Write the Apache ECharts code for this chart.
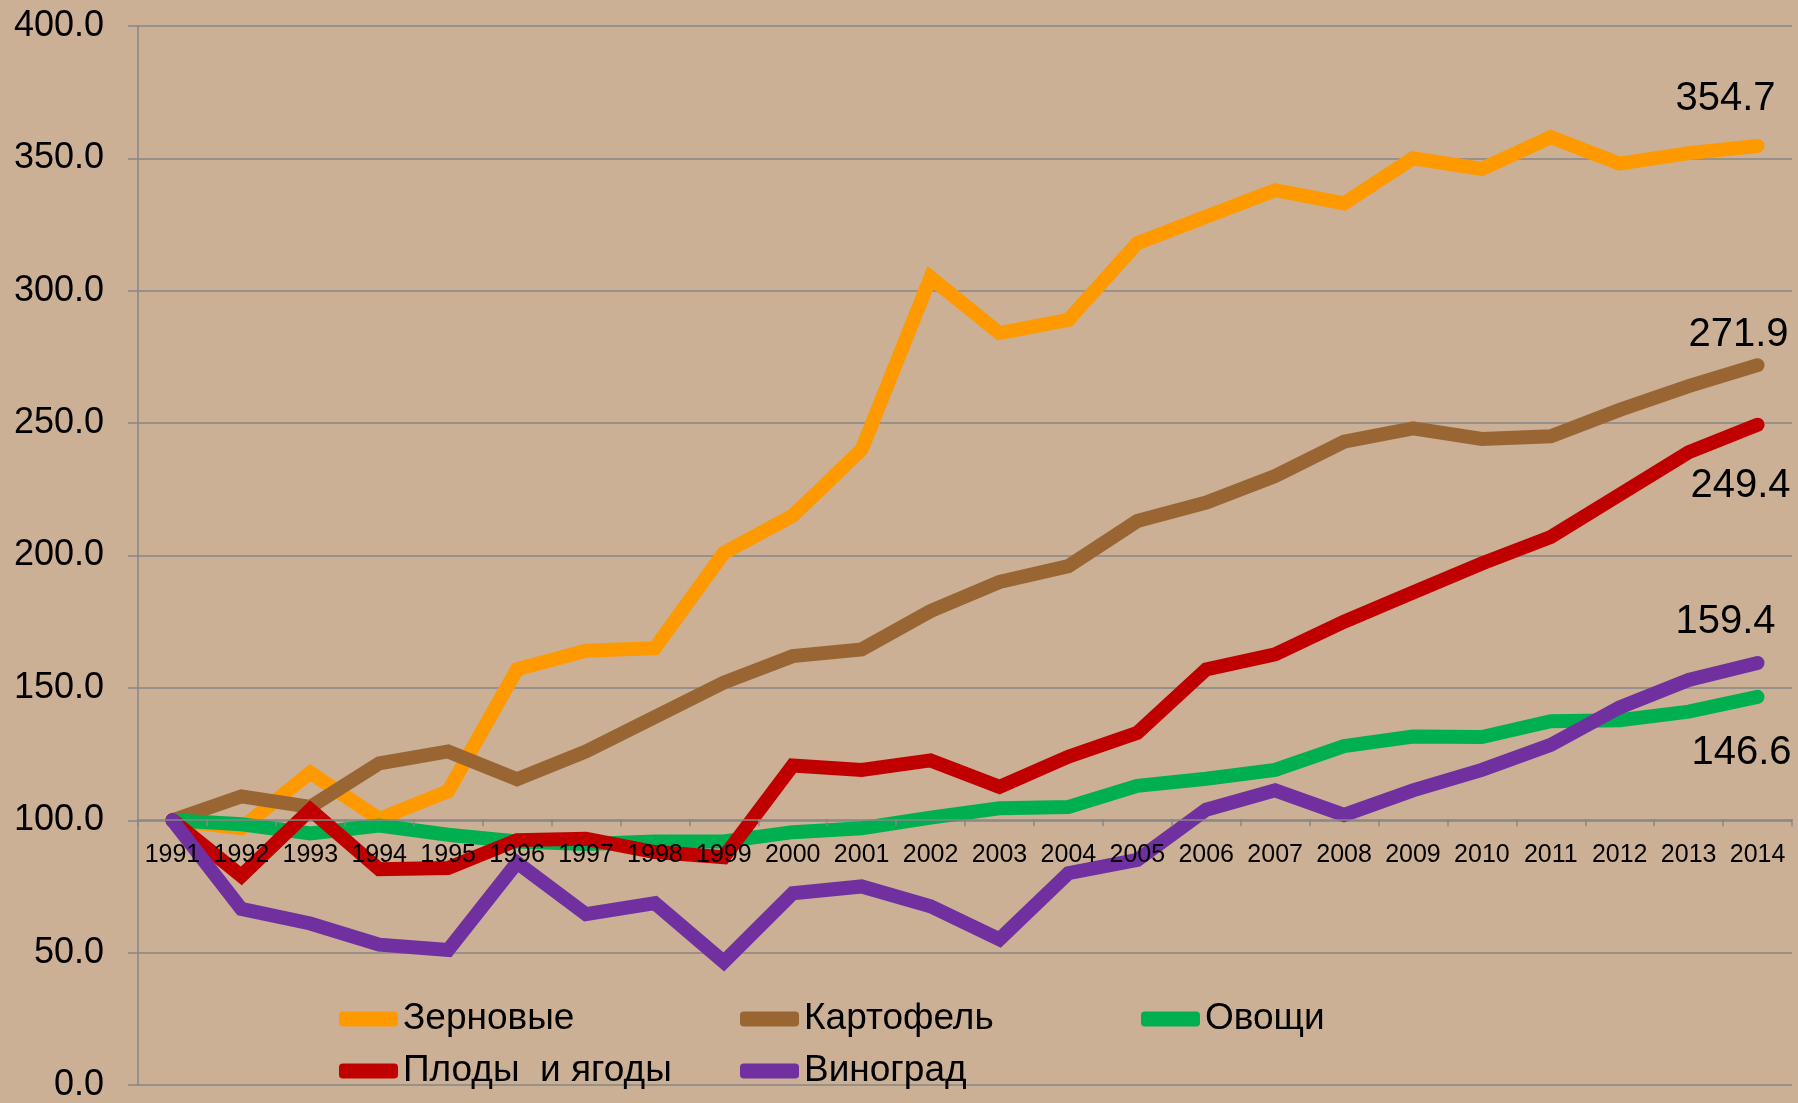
<!DOCTYPE html>
<html>
<head>
<meta charset="utf-8">
<script src="https://cdn.jsdelivr.net/npm/echarts@6/dist/echarts.min.js"></script>
<style>
  html, body { margin: 0; padding: 0; background: #CBB095; }
  #chart { width: 1798px; height: 1103px; }
</style>
</head>
<body>
<div id="chart"></div>
<script>
// годы
var years = ['1991','1992','1993','1994','1995','1996','1997','1998','1999','2000','2001','2002',
             '2003','2004','2005','2006','2007','2008','2009','2010','2011','2012','2013','2014'];

// индексы, 1991 = 100
var zernovye = [100, 97, 118, 100.5, 111, 157, 164, 165, 201, 215, 240, 305,
                284, 289, 318, 328, 338, 333, 350, 346, 358, 348, 352, 354.7];
var kartofel = [100, 109, 105, 121.5, 126, 115.5, 126, 139, 152, 162, 164.5, 179,
                190, 196, 213, 220, 230, 243, 248, 244, 245, 255, 264, 271.9];
var ovoshchi = [100, 98.5, 95, 98, 94.5, 92, 91, 92, 92, 95.5, 97, 101,
                104.5, 105, 113, 115.7, 119, 128, 131.6, 131.4, 137.4, 137.8, 141, 146.6];
var plody    = [100, 79, 104, 81.5, 82, 92.5, 93, 88, 86, 120.7, 119, 122.6,
                112.6, 124, 133, 157, 162.7, 175, 186, 197, 207, 223, 239, 249.4];
var vinograd = [100, 66.5, 61, 53, 51, 84, 64.5, 68.7, 46.5, 72.4, 75, 67.5,
                55, 80, 85, 104, 111.3, 102, 111.3, 119, 128.5, 142.6, 153, 159.4];

var yTicks = [0, 50, 100, 150, 200, 250, 300, 350, 400];

var FONT = '"Liberation Sans", Arial, sans-serif';
var GRID_TOP = 26, GRID_BOTTOM = 14;
var gridHeight = 1103 - GRID_TOP - GRID_BOTTOM;

// подпись только у последней точки
function lastLabel(values, pos, offset) {
    return values.map(function (v, i) {
        if (i !== values.length - 1) return v;
        return {
            value: v,
            label: {
                show: true,
                position: pos,
                offset: offset,
                fontSize: 40,
                fontFamily: FONT,
                color: '#000',
                formatter: function (p) { return p.value.toFixed(1); }
            }
        };
    });
}

function line(name, values, color, pos, offset) {
    return {
        name: name,
        type: 'line',
        z: 1,
        data: lastLabel(values, pos, offset),
        symbol: 'circle',
        symbolSize: 0,
        showSymbol: true,
        color: color,
        lineStyle: { width: 14, color: color, cap: 'round', join: 'miter' },
        itemStyle: { color: color },
        emphasis: { disabled: true }
    };
}

var myChart = echarts.init(document.getElementById('chart'));

var option = {
    animation: false,
    backgroundColor: '#CBB095',
    grid: { left: 138, right: 6, top: GRID_TOP, bottom: GRID_BOTTOM, containLabel: false },
    legend: {
        left: 334,
        top: 988,
        width: 1250,
        icon: 'roundRect',
        itemWidth: 59,
        itemHeight: 15,
        itemGap: 0,
        textStyle: { fontSize: 37, fontFamily: FONT, color: '#000', width: 337, lineHeight: 52 },
        data: ['Зерновые', 'Картофель', 'Овощи', 'Плоды  и ягоды', 'Виноград']
    },
    xAxis: {
        type: 'category',
        data: years,
        boundaryGap: true,
        z: 10,
        axisLine: { onZero: false, lineStyle: { color: '#878787', width: 1.5 } },
        // ось категорий проходит по уровню 100
        offset: -gridHeight * 100 / 400,
        axisTick: { show: true, length: 7, lineStyle: { color: '#878787', width: 1.5 } },
        axisLabel: { fontSize: 25, fontFamily: FONT, color: '#000', margin: 23, interval: 0 },
        splitLine: { show: false }
    },
    yAxis: {
        type: 'value',
        min: yTicks[0],
        max: yTicks[yTicks.length - 1],
        interval: 50,
        axisLine: { show: true, lineStyle: { color: '#878787', width: 1.5 } },
        axisTick: { show: true, length: 10, lineStyle: { color: '#878787', width: 1.5 } },
        axisLabel: {
            fontSize: 36, fontFamily: FONT, color: '#000', margin: 34,
            formatter: function (v) { return v.toFixed(1); }
        },
        splitLine: { show: true, lineStyle: { color: '#878787', width: 1.5 } }
    },
    series: [
        line('Зерновые', zernovye, '#FF9900', 'top', [-32, -22]),
        line('Картофель', kartofel, '#996633', 'top', [-19, -5]),
        line('Овощи', ovoshchi, '#00B050', 'bottom', [-16, 31]),
        line('Плоды  и ягоды', plody, '#C00000', 'bottom', [-17, 36]),
        line('Виноград', vinograd, '#7030A0', 'top', [-32, -16])
    ]
};

myChart.setOption(option);
</script>
</body>
</html>
